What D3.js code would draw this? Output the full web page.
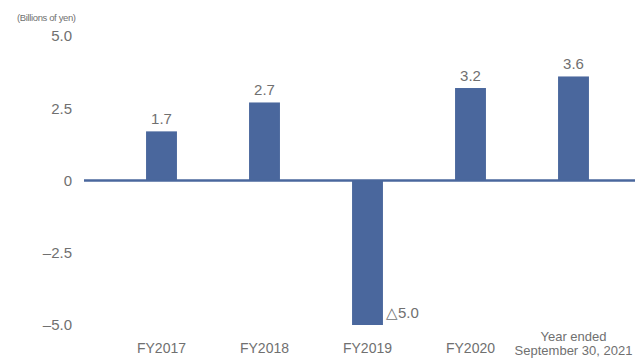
<!DOCTYPE html>
<html>
<head>
<meta charset="utf-8">
<script src="https://cdn.jsdelivr.net/npm/d3@7"></script>
<style>
  body { margin: 0; background: #fff; }
  text { font-family: "Liberation Sans", Arial, sans-serif; fill: #707070; }
</style>
</head>
<body>
<div id="chart"></div>
<script>
// chart values
const categories = ["FY2017", "FY2018", "FY2019", "FY2020", "Year ended\nSeptember 30, 2021"];
const values = [1.7, 2.7, -5.0, 3.2, 3.6];
const valueLabels = ["1.7", "2.7", "△5.0", "3.2", "3.6"];
const tickValues = [5, 2.5, 0, -2.5, -5];
const tickLabels = ["5.0", "2.5", "0", "–2.5", "–5.0"];
const unitLabel = "(Billions of yen)";

const width = 635, height = 361;
const barColor = "#4a679d";

const svg = d3.select("#chart")
    .append("svg")
    .attr("width", width)
    .attr("height", height);

// x scale for the bars
const x = d3.scaleBand()
    .domain(categories)
    .range([110, 625])
    .paddingInner(0.7)
    .paddingOuter(0.35);

// y scale
const y = d3.scaleLinear()
    .domain([-5, 5])
    .range([325, 36]);

// unit label
svg.append("text")
    .attr("x", 17)
    .attr("y", 21)
    .style("font-size", "9.5px")
    .attr("textLength", 59)
    .text(unitLabel);

// y tick labels
svg.selectAll(".ytick")
    .data(tickValues)
    .enter()
    .append("text")
    .attr("class", "ytick")
    .attr("x", 72)
    .attr("y", d => y(d))
    .attr("dy", "0.36em")
    .attr("text-anchor", "end")
    .style("font-size", "15px")
    .text((d, i) => tickLabels[i]);

// bars
svg.selectAll(".bar")
    .data(values)
    .enter()
    .append("rect")
    .attr("class", "bar")
    .attr("x", (d, i) => x(categories[i]))
    .attr("y", d => y(Math.max(0, d)))
    .attr("width", x.bandwidth())
    .attr("height", d => Math.abs(y(d) - y(0)))
    .attr("fill", barColor);

// zero line
svg.append("line")
    .attr("x1", 84)
    .attr("x2", width)
    .attr("y1", y(0))
    .attr("y2", y(0))
    .attr("stroke", barColor)
    .attr("stroke-width", 2.5);

// value labels (negative one sits beside the bar)
svg.selectAll(".vlabel")
    .data(values)
    .enter()
    .append("text")
    .attr("class", "vlabel")
    .attr("x", (d, i) => d < 0 ? x(categories[i]) + x.bandwidth() + 3 : x(categories[i]) + x.bandwidth() / 2)
    .attr("y", d => y(d) - 7)
    .attr("text-anchor", d => d < 0 ? "start" : "middle")
    .style("font-size", "15px")
    .text((d, i) => valueLabels[i]);

// category labels
const cat = svg.selectAll(".xlabel")
    .data(categories)
    .enter()
    .append("text")
    .attr("class", "xlabel")
    .attr("text-anchor", "middle")
    .attr("x", d => x(d) + x.bandwidth() / 2)
    .attr("y", d => d.includes("\n") ? 341 : 353)
    .style("font-size", d => d.includes("\n") ? "13px" : "14px");

cat.selectAll("tspan")
    .data(d => d.split("\n"))
    .enter()
    .append("tspan")
    .attr("x", function () { return d3.select(this.parentNode).attr("x"); })
    .attr("dy", (d, i) => i === 0 ? 0 : 14)
    .text(d => d);
</script>
</body>
</html>
